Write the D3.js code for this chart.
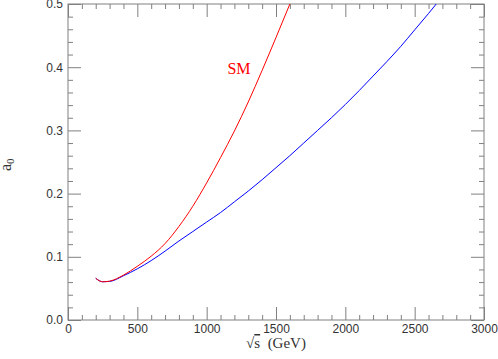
<!DOCTYPE html>
<html>
<head>
<meta charset="utf-8">
<script src="https://cdn.jsdelivr.net/npm/d3@7"></script>
<style>
body { margin: 0; background: #fff; }
</style>
</head>
<body>
<div id="chart"></div>
<script>
// values
var smEnergy = [200, 250, 300, 400, 500, 600, 700, 800, 900, 1000, 1100, 1200, 1300, 1400, 1500, 1600];
var smA0 = [0.066, 0.0605, 0.0615, 0.071, 0.085, 0.101, 0.121, 0.148, 0.180, 0.217, 0.257, 0.299, 0.345, 0.395, 0.447, 0.500];

var otherEnergy = [200, 250, 300, 400, 500, 600, 700, 800, 900, 1000, 1100, 1200, 1300, 1400,
                   1500, 1600, 1700, 1800, 1900, 2000, 2100, 2200, 2300, 2400, 2500, 2600, 2700];
var otherA0 = [0.066, 0.0605, 0.061, 0.070, 0.081, 0.094, 0.109, 0.125, 0.140, 0.155, 0.170, 0.187, 0.204, 0.222,
               0.241, 0.260, 0.280, 0.300, 0.320, 0.341, 0.363, 0.386, 0.409, 0.433, 0.459, 0.485, 0.512];

var xTicks = [0, 500, 1000, 1500, 2000, 2500, 3000];
var yTicks = [0, 0.1, 0.2, 0.3, 0.4, 0.5];

var margin = {top: 4, right: 14, bottom: 39, left: 68},
    width = 498 - margin.left - margin.right,
    height = 359 - margin.top - margin.bottom;

var svg = d3.select("#chart")
            .append("svg")
            .attr("width", 498)
            .attr("height", 359);

var x = d3.scaleLinear().domain([0, 3000]).range([0, width]),
    y = d3.scaleLinear().domain([0, 0.5]).range([height, 0]);

var g = svg.append("g")
           .attr("transform", "translate(" + margin.left + "," + margin.top + ")");

var xMinor = d3.range(0, 3001, 100).filter(function(d) { return d % 500 != 0; });
var yMinor = d3.range(0, 51, 2).map(function(d) { return d / 100; })
               .filter(function(d) { return Math.round(d * 100) % 10 != 0; });

var axisColor = "#808080";

function drawAxis(axis, transform) {
  var a = g.append("g")
           .attr("transform", transform)
           .attr("color", axisColor)
           .call(axis);
  a.select(".domain").remove();
  return a;
}

// bottom
drawAxis(d3.axisBottom(x).tickValues(xTicks).tickSize(-13).tickPadding(4)
           .tickFormat(d3.format("d")), "translate(0," + height + ")");
drawAxis(d3.axisBottom(x).tickValues(xMinor).tickSize(-5).tickFormat(""), "translate(0," + height + ")");
// top
drawAxis(d3.axisTop(x).tickValues(xTicks).tickSize(-13).tickFormat(""), "translate(0,0)");
drawAxis(d3.axisTop(x).tickValues(xMinor).tickSize(-5).tickFormat(""), "translate(0,0)");
// left
drawAxis(d3.axisLeft(y).tickValues(yTicks).tickSize(-13).tickPadding(5)
           .tickFormat(d3.format(".1f")), "translate(0,0)");
drawAxis(d3.axisLeft(y).tickValues(yMinor).tickSize(-5).tickFormat(""), "translate(0,0)");
// right
drawAxis(d3.axisRight(y).tickValues(yTicks).tickSize(-13).tickFormat(""), "translate(" + width + ",0)");
drawAxis(d3.axisRight(y).tickValues(yMinor).tickSize(-5).tickFormat(""), "translate(" + width + ",0)");

g.selectAll(".tick text")
 .attr("fill", "#333")
 .style("font-family", "'Liberation Sans', Arial, sans-serif")
 .style("font-size", "12px");

g.append("rect")
 .attr("width", width)
 .attr("height", height)
 .attr("fill", "none")
 .attr("stroke", axisColor)
 .attr("stroke-width", 1);

g.append("clipPath").attr("id", "clip")
 .append("rect").attr("width", width).attr("height", height);

var line = d3.line()
             .x(function(d) { return x(d[0]); })
             .y(function(d) { return y(d[1]); })
             .curve(d3.curveMonotoneX);

g.append("path")
 .datum(d3.zip(otherEnergy, otherA0))
 .attr("clip-path", "url(#clip)")
 .attr("fill", "none")
 .attr("stroke", "#0000ff")
 .attr("stroke-width", 1)
 .attr("d", line);

g.append("path")
 .datum(d3.zip(smEnergy, smA0))
 .attr("clip-path", "url(#clip)")
 .attr("fill", "none")
 .attr("stroke", "#ff0000")
 .attr("stroke-width", 1)
 .attr("d", line);

g.append("text")
 .attr("x", x(1150))
 .attr("y", y(0.39))
 .attr("fill", "#ff0000")
 .style("font-family", "'Liberation Serif', 'Times New Roman', serif")
 .style("font-size", "16px")
 .text("SM");

// axis titles
var xl = svg.append("text")
            .attr("x", margin.left + width / 2)
            .attr("y", 348)
            .attr("text-anchor", "middle")
            .attr("fill", "#333")
            .style("font-family", "'Liberation Serif', 'Times New Roman', serif")
            .style("font-size", "15px");
xl.append("tspan").text("\u221a");
xl.append("tspan").style("text-decoration", "overline").text("s");
xl.append("tspan").text("\u00a0\u00a0(GeV)");

var yl = svg.append("text")
            .attr("transform", "translate(11,171) rotate(-90)")
            .attr("fill", "#333")
            .style("font-family", "'Liberation Serif', 'Times New Roman', serif")
            .style("font-size", "16px");
yl.append("tspan").text("a");
yl.append("tspan").attr("dy", 3).style("font-size", "11px").text("0");
</script>
</body>
</html>
